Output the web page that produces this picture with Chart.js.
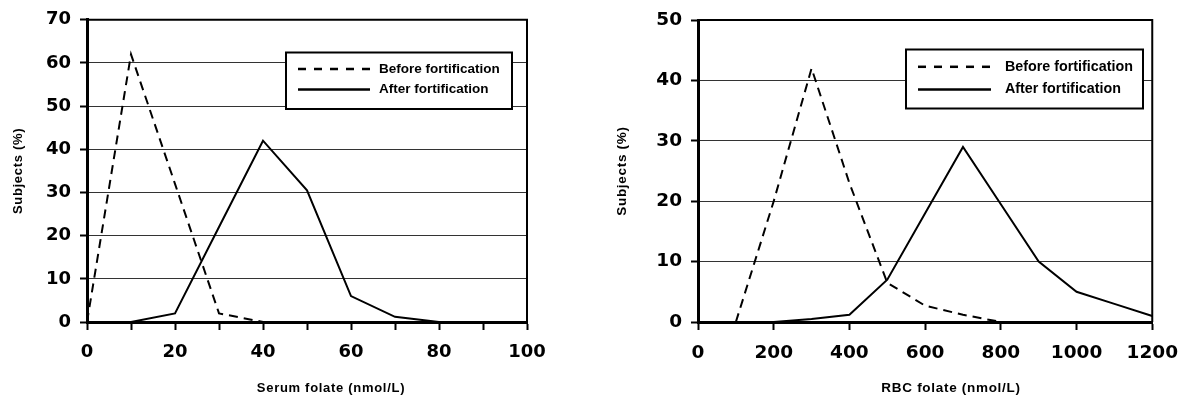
<!DOCTYPE html>
<html lang="en">
<head>
<meta charset="UTF-8">
<title>Serum and RBC folate before and after fortification</title>
<script src="https://cdn.jsdelivr.net/npm/chart.js@4.4.1/dist/chart.umd.min.js"></script>
<style>
  body { margin: 0; background: #fff; }
  .wrap { position: relative; width: 1190px; height: 405px; }
  .wrap canvas { position: absolute; top: 0; }
  #serumChart { left: 0; }
  #rbcChart { left: 595px; }
</style>
</head>
<body>
<div class="wrap">
  <canvas id="serumChart" width="595" height="405"></canvas>
  <canvas id="rbcChart" width="595" height="405"></canvas>
</div>
<script>
// % of subjects per serum folate bin (nmol/L)
const serumBins = [0, 10, 20, 30, 40, 50, 60, 70, 80];
const serumBefore = [0, 62, 32, 2, 0, null, null, null, null];
const serumAfter = [null, 0, 2, 22, 42, 30.5, 6, 1.2, 0];
const serumXLabels = [0, 20, 40, 60, 80, 100];

// % of subjects per RBC folate bin (nmol/L)
const rbcBins = [100, 200, 300, 400, 500, 600, 700, 800, 900, 1000, 1100, 1200];
const rbcBefore = [0, 20, 42, 23, 6.5, 2.7, 1.2, 0, null, null, null, null];
const rbcAfter = [null, 0, 0.5, 1.2, 7, 18, 29, 19.5, 10, 5, 3, 1];
const rbcXLabels = [0, 200, 400, 600, 800, 1000, 1200];

const seriesLabels = ['Before fortification', 'After fortification'];
const yTitle = 'Subjects (%)';

const sans = '"Liberation Sans", Arial, sans-serif';

function pts(bins, vals) {
    return bins.map((x, i) => ({ x: x, y: vals[i] }));
}

// frame, axis titles and the boxed legend inside the plot
const decor = {
    id: 'decor',
    afterDraw(chart, args, o) {
        const ctx = chart.ctx;
        const a = chart.chartArea;
        ctx.save();
        ctx.strokeStyle = '#000';
        ctx.lineWidth = 2;
        ctx.beginPath();
        ctx.moveTo(a.left, a.top);
        ctx.lineTo(a.right, a.top);
        ctx.lineTo(a.right, a.bottom);
        ctx.stroke();

        // axis titles
        ctx.fillStyle = '#000';
        ctx.font = 'bold ' + o.titleSize + 'px ' + sans;
        ctx.letterSpacing = '0.7px';
        ctx.textAlign = 'center';
        ctx.textBaseline = 'alphabetic';
        ctx.fillText(o.xTitle, o.xTitleX, o.xTitleY);
        ctx.save();
        ctx.translate(o.yTitleX, (a.top + a.bottom) / 2);
        ctx.rotate(-Math.PI / 2);
        ctx.fillText(yTitle, 0, 0);
        ctx.restore();

        // legend
        const L = o.legend;
        ctx.letterSpacing = '0px';
        ctx.fillStyle = '#fff';
        ctx.fillRect(L.x, L.y, L.w, L.h);
        ctx.lineWidth = 2;
        ctx.strokeRect(L.x, L.y, L.w, L.h);
        ctx.font = 'bold ' + L.size + 'px ' + sans;
        ctx.textAlign = 'left';
        ctx.textBaseline = 'middle';
        chart.data.datasets.forEach((ds, i) => {
            const y = L.y + L.rows[i];
            ctx.setLineDash(ds.borderDash ? [8, 8] : []);
            ctx.lineWidth = 2.5;
            ctx.beginPath();
            ctx.moveTo(L.x + L.sx, y);
            ctx.lineTo(L.x + L.sx + L.sw, y);
            ctx.stroke();
            ctx.setLineDash([]);
            ctx.fillStyle = '#000';
            ctx.fillText(ds.label, L.x + L.tx, y);
        });
        ctx.restore();
    }
};

function makeChart(id, c) {
    const tickFont = { family: '"DejaVu Sans", sans-serif', weight: 'bold', size: c.tickSize };
    return new Chart(document.getElementById(id), {
        type: 'line',
        data: {
            datasets: [
                {
                    label: seriesLabels[0],
                    data: pts(c.bins, c.before),
                    borderColor: '#000',
                    borderWidth: 2,
                    borderDash: [9, 6],
                    pointRadius: 0,
                    tension: 0,
                    fill: false
                },
                {
                    label: seriesLabels[1],
                    data: pts(c.bins, c.after),
                    borderColor: '#000',
                    borderWidth: 2,
                    pointRadius: 0,
                    tension: 0,
                    fill: false
                }
            ]
        },
        options: {
            responsive: false,
            animation: false,
            devicePixelRatio: 1,
            layout: { padding: { left: 0, top: 15, right: c.padRight, bottom: 0 } },
            plugins: {
                legend: { display: false },
                tooltip: { enabled: false },
                decor: c.decor
            },
            scales: {
                x: {
                    type: 'linear',
                    min: 0,
                    max: c.xMax,
                    afterFit: s => { s.height = 83; },
                    ticks: {
                        stepSize: c.xStep,
                        autoSkip: false,
                        maxRotation: 0,
                        padding: 12,
                        color: '#000',
                        font: tickFont,
                        callback: v => c.xLabels.includes(v) ? v : ''
                    },
                    grid: { drawOnChartArea: false, tickLength: 8, tickWidth: 2, tickColor: '#000' },
                    border: { color: '#000', width: 3 }
                },
                y: {
                    min: 0,
                    max: c.yMax,
                    afterFit: s => { s.width = c.yWidth; },
                    ticks: { stepSize: 10, padding: 9, color: '#000', font: tickFont },
                    grid: { color: '#333', lineWidth: 1, tickLength: 7, tickWidth: 2, tickColor: '#000' },
                    border: { color: '#000', width: 3 }
                }
            }
        },
        plugins: [decor]
    });
}

makeChart('serumChart', {
    bins: serumBins, before: serumBefore, after: serumAfter, xLabels: serumXLabels,
    xMax: 100, xStep: 10, yMax: 70, yWidth: 87, padRight: 68, tickSize: 18,
    decor: {
        xTitle: 'Serum folate (nmol/L)', xTitleX: 331, xTitleY: 392, yTitleX: 22, titleSize: 13,
        legend: { x: 286, y: 52.5, w: 226, h: 56.5, sx: 12, sw: 72, tx: 93, rows: [16.5, 37], size: 13.5 }
    }
});

makeChart('rbcChart', {
    bins: rbcBins, before: rbcBefore, after: rbcAfter, xLabels: rbcXLabels,
    xMax: 1200, xStep: 200, yMax: 50, yWidth: 103, padRight: 31, tickSize: 18.5,
    decor: {
        xTitle: 'RBC folate (nmol/L)', xTitleX: 356, xTitleY: 392, yTitleX: 31, titleSize: 13.5,
        legend: { x: 311, y: 49.5, w: 237, h: 59, sx: 12, sw: 73, tx: 99, rows: [17.3, 40], size: 14.3 }
    }
});
</script>
</body>
</html>
